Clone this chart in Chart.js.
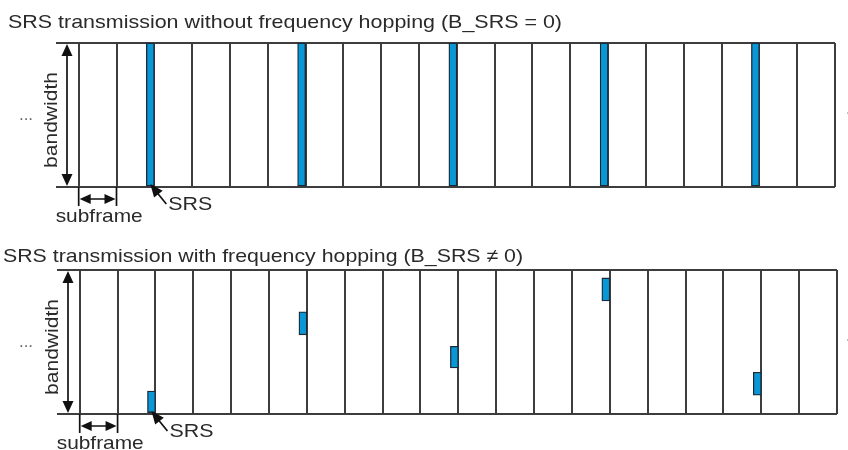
<!DOCTYPE html>
<html>
<head>
<meta charset="utf-8">
<script src="https://cdn.jsdelivr.net/npm/chart.js@4.4.1/dist/chart.umd.min.js"></script>
<style>
  html, body { margin: 0; padding: 0; background: #fff; }
  .panel { position: absolute; left: 0; width: 848px; height: 225px; }
</style>
</head>
<body>
<div class="panel" style="top:0"><canvas id="noHop"></canvas></div>
<div class="panel" style="top:225px"><canvas id="hop"></canvas></div>
<script>
// subframe boundaries (vertical lines), subframes carrying SRS in their last symbol
const subframeBounds = [0, 1, 2, 3, 4, 5, 6, 7, 8, 9, 10, 11, 12, 13, 14, 15, 16, 17, 18, 19, 20];
const srsSubframes = [1, 5, 9, 13, 17];
// band occupied by SRS, as fraction of the bandwidth
const fullBandLow = [0, 0, 0, 0, 0];
const fullBandHigh = [1, 1, 1, 1, 1];
const hopBandLow = [0.01, 0.55, 0.32, 0.785, 0.13];
const hopBandHigh = [0.16, 0.71, 0.47, 0.945, 0.29];
const bandEdges = [0, 1];

const SRS_SPAN = 0.21;   // part of a subframe taken by the SRS symbol
const X_MIN = -0.6;
const LINE = '#3d3d3d';
const SRS_BLUE = '#0a97d6';
const FONT = '"Liberation Sans", Arial, sans-serif';

function stretchText(ctx, text, x, y, width, angle) {
    ctx.save();
    ctx.translate(x, y);
    if (angle) ctx.rotate(angle);
    let w = ctx.measureText(text).width;
    ctx.scale(width / w, 1);
    ctx.fillText(text, 0, 0);
    ctx.restore();
}

function arrowHead(ctx, x, y, angle, len, half) {
    ctx.save();
    ctx.translate(x, y);
    ctx.rotate(angle);
    ctx.beginPath();
    ctx.moveTo(0, 0);
    ctx.lineTo(-len, -half);
    ctx.lineTo(-len, half);
    ctx.closePath();
    ctx.fill();
    ctx.restore();
}

const labels = {
    id: 'labels',
    afterDraw(chart, args, opts) {
        const ctx = chart.ctx;
        const area = chart.chartArea;
        const x = chart.scales.x;
        ctx.save();
        ctx.fillStyle = '#2a2a2a';
        ctx.strokeStyle = '#111';
        ctx.font = '19px ' + FONT;
        ctx.textBaseline = 'alphabetic';
        ctx.textAlign = 'left';
        stretchText(ctx, opts.title, opts.titleX, opts.titleBase, opts.titleW);

        // dots on both sides
        ctx.font = '17px ' + FONT;
        ctx.textAlign = 'center';
        ctx.textBaseline = 'middle';
        ctx.fillStyle = '#666';
        ctx.fillText('...', 26, (area.top + area.bottom) / 2);
        ctx.fillText('...', 853, (area.top + area.bottom) / 2 - 6);

        // bandwidth arrow
        const bx = area.left + 11;
        ctx.lineWidth = 1.7;
        ctx.fillStyle = '#111';
        ctx.beginPath();
        ctx.moveTo(bx, area.top + 6);
        ctx.lineTo(bx, area.bottom - 6);
        ctx.stroke();
        arrowHead(ctx, bx, area.top + 1, -Math.PI / 2, 12, 5.5);
        arrowHead(ctx, bx, area.bottom - 1, Math.PI / 2, 12, 5.5);
        ctx.fillStyle = '#2a2a2a';
        ctx.font = '19px ' + FONT;
        stretchText(ctx, 'bandwidth', area.left - 4, (area.top + area.bottom) / 2 + 5, 96, -Math.PI / 2);

        // subframe arrow
        const s0 = x.getPixelForValue(subframeBounds[0]);
        const s1 = x.getPixelForValue(subframeBounds[1]);
        const ay = area.bottom + 12;
        ctx.beginPath();
        ctx.moveTo(s0, area.bottom);
        ctx.lineTo(s0, area.bottom + 19);
        ctx.moveTo(s1, area.bottom);
        ctx.lineTo(s1, area.bottom + 19);
        ctx.moveTo(s0 + 4, ay);
        ctx.lineTo(s1 - 4, ay);
        ctx.stroke();
        ctx.fillStyle = '#111';
        arrowHead(ctx, s0 + 1, ay, Math.PI, 11, 5);
        arrowHead(ctx, s1 - 1, ay, 0, 11, 5);
        ctx.fillStyle = '#2a2a2a';
        ctx.textAlign = 'left';
        ctx.textBaseline = 'alphabetic';
        stretchText(ctx, 'subframe', s0 - 23, area.bottom + 35, 87);

        // SRS pointer
        const p = x.getPixelForValue(srsSubframes[0] + 1);
        ctx.beginPath();
        ctx.moveTo(p + 12, area.bottom + 17);
        ctx.lineTo(p - 1, area.bottom + 1);
        ctx.stroke();
        ctx.fillStyle = '#111';
        arrowHead(ctx, p - 4, area.bottom - 3, Math.atan2(-19, -15), 13, 5.5);
        ctx.fillStyle = '#2a2a2a';
        stretchText(ctx, 'SRS', p + 14, area.bottom + 23, 44);
        ctx.restore();
    }
};

function srsChart(id, cfg) {
    const points = srsSubframes.map((sf, i) => ({
        x: sf + 1 - SRS_SPAN / 2,
        y: [cfg.low[i], cfg.high[i]]
    }));
    const data = {
        datasets: [{
            label: 'SRS',
            data: points,
            backgroundColor: SRS_BLUE,
            borderColor: '#1b2836',
            borderWidth: 1.3,
            borderSkipped: false,
            barThickness: 8
        }]
    };
    const config = {
        type: 'bar',
        data: data,
        plugins: [labels],
        options: {
            responsive: true,
            maintainAspectRatio: false,
            animation: false,
            layout: { padding: cfg.pad },
            plugins: {
                legend: { display: false },
                tooltip: { enabled: false },
                labels: cfg
            },
            scales: {
                x: {
                    type: 'linear',
                    min: X_MIN,
                    max: 20,
                    offset: false,
                    afterBuildTicks: (s) => { s.ticks = subframeBounds.map(v => ({ value: v })); },
                    grid: { offset: false, color: LINE, lineWidth: 2, drawTicks: false },
                    border: { display: false },
                    ticks: { display: false }
                },
                y: {
                    min: 0,
                    max: 1,
                    afterBuildTicks: (s) => { s.ticks = bandEdges.map(v => ({ value: v })); },
                    grid: { color: LINE, lineWidth: 2, drawTicks: false },
                    border: { display: false },
                    ticks: { display: false }
                }
            }
        }
    };
    let ctx = document.getElementById(id).getContext('2d');
    new Chart(ctx, config);
}

srsChart('noHop', {
    title: 'SRS transmission without frequency hopping (B_SRS = 0)',
    titleX: 8, titleW: 554, titleBase: 28,
    low: fullBandLow, high: fullBandHigh,
    pad: { left: 56, right: 13, top: 43, bottom: 38 }
});
srsChart('hop', {
    title: 'SRS transmission with frequency hopping (B_SRS \u2260 0)',
    titleX: 3, titleW: 520, titleBase: 37,
    low: hopBandLow, high: hopBandHigh,
    pad: { left: 57, right: 11, top: 45, bottom: 36 }
});
</script>
</body>
</html>
